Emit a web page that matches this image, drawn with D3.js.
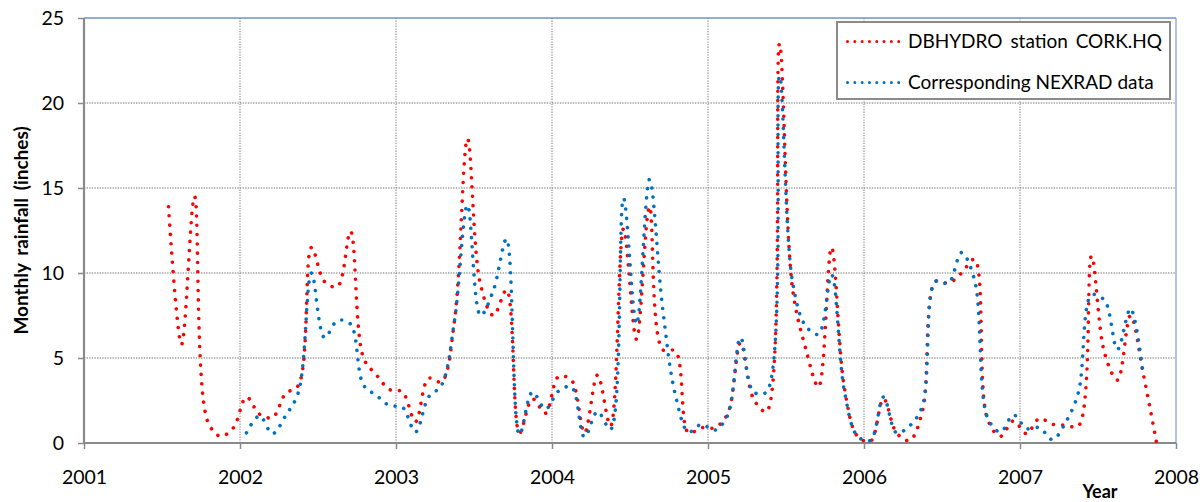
<!DOCTYPE html>
<html>
<head>
<meta charset="utf-8">
<script src="https://cdn.jsdelivr.net/npm/d3@7"></script>
<style>
  body { margin: 0; background: #fff; }
  text { font-family: Lato, "Open Sans", sans-serif; fill: #000; }
</style>
</head>
<body>
<div id="chart"></div>
<script>
// monthly rainfall, inches
var redStart = [2001, 7]   // DBHYDRO starts Jul 2001
var redValues = [
  13.9, 5.8, 14.5, 1.3, 0.4, 0.9,
  2.7, 1.7, 1.5, 2.9, 3.4, 11.5, 9.5, 9.2, 12.45, 5.0, 4.0, 3.15,
  3.0, 1.25, 3.8, 3.6, 7.2, 17.9, 9.3, 7.5, 9.0, 0.6, 2.6, 1.75,
  3.9, 3.7, 0.6, 4.0, 1.0, 12.6, 6.1, 13.9, 5.5, 5.4, 0.6, 0.9,
  0.9, 1.7, 5.9, 2.6, 1.85, 23.5, 9.1, 5.6, 3.3, 11.5, 3.2, 0.4,
  0.1, 2.6, 0.6, 0.15, 1.9, 9.5, 9.4, 10.0, 10.8, 1.4, 0.4, 1.3,
  0.55, 1.45, 1.1, 1.05, 1.0, 11.0, 5.3, 3.7, 7.5, 4.0, 0.05
]
var blueStart = [2002, 1]  // NEXRAD starts Jan 2002
var blueValues = [
  0.6, 1.6, 0.55, 1.6, 3.0, 10.0, 6.2, 7.2, 7.0, 3.4, 2.8, 2.2,
  2.1, 0.65, 2.7, 3.4, 7.2, 14.0, 7.5, 9.0, 12.0, 0.5, 3.0, 2.0,
  3.05, 3.3, 0.35, 1.85, 0.8, 14.4, 7.0, 15.5, 8.0, 2.8, 0.65, 1.1,
  0.75, 1.6, 6.2, 3.0, 3.0, 21.6, 9.5, 6.9, 6.4, 9.9, 3.0, 0.4,
  0.15, 2.7, 0.6, 1.0, 2.2, 9.5, 9.4, 11.2, 9.6, 1.5, 0.65, 1.65,
  0.85, 0.9, 0.2, 1.2, 3.0, 8.7, 8.4, 5.5, 7.9, 3.9
]
var yearTicks = [2001, 2002, 2003, 2004, 2005, 2006, 2007, 2008]
var yTicks = [0, 5, 10, 15, 20, 25]
var seriesNames = ["DBHYDRO station CORK.HQ", "Corresponding NEXRAD data"]
var seriesColors = ["#FF0000", "#0070C0"]

function toSeries(start, vals) {
  return vals.map(function (v, i) {
    var m = start[1] - 1 + i
    return [start[0] + (m + 0.5) / 12, v]
  })
}

var width = 1203, height = 502
var margin = { top: 18, right: 27, bottom: 59, left: 84 }
var w = width - margin.left - margin.right
var h = height - margin.top - margin.bottom

var x = d3.scaleLinear().domain([2001, 2008]).range([0, w])
var y = d3.scaleLinear().domain([0, 25]).range([h, 0])

var svg = d3.select("#chart").append("svg")
  .attr("width", width)
  .attr("height", height)
  .style("display", "block")

var g = svg.append("g")
  .attr("transform", "translate(" + margin.left + "," + margin.top + ")")

// grid
g.selectAll(".hgrid")
  .data(yTicks.filter(function (d) { return d > 0 && d < 25 }))
  .enter().append("line")
  .attr("x1", 0).attr("x2", w)
  .attr("y1", function (d) { return y(d) }).attr("y2", function (d) { return y(d) })
  .attr("stroke", "#9a9a9a").attr("stroke-width", 1.3).attr("stroke-dasharray", "1.3 1.3")

g.selectAll(".vgrid")
  .data(yearTicks.filter(function (d) { return d > 2001 && d < 2008 }))
  .enter().append("line")
  .attr("y1", 0).attr("y2", h)
  .attr("x1", function (d) { return x(d) }).attr("x2", function (d) { return x(d) })
  .attr("stroke", "#9a9a9a").attr("stroke-width", 1.3).attr("stroke-dasharray", "1.3 1.3")

// top / right border
g.append("line").attr("x1", 0).attr("x2", w).attr("y1", 0).attr("y2", 0)
  .attr("stroke", "#6f93c9").attr("stroke-width", 1.6)
g.append("line").attr("x1", w).attr("x2", w).attr("y1", 0).attr("y2", h)
  .attr("stroke", "#7b9dd0").attr("stroke-width", 1.2)

// axes
var yAxis = d3.axisLeft(y).tickValues(yTicks).tickSize(6).tickPadding(14)
var xAxis = d3.axisBottom(x).tickValues(yearTicks).tickSize(6).tickPadding(21).tickFormat(d3.format("d"))

var ya = g.append("g").call(yAxis)
var xa = g.append("g").attr("transform", "translate(0," + h + ")").call(xAxis)

;[ya, xa].forEach(function (a) {
  a.select(".domain").attr("stroke", "#8a8a8a").attr("stroke-width", 2.2)
  a.selectAll(".tick line").attr("stroke", "#8a8a8a").attr("stroke-width", 1.5)
  a.selectAll("text").attr("font-family", "Lato, sans-serif").attr("font-size", 19.5).attr("fill", "#000")
})
ya.select(".domain").attr("d", "M0," + h + "V0")
xa.select(".domain").attr("d", "M0,0H" + w)

// series
var line = d3.line()
  .x(function (d) { return x(d[0]) })
  .y(function (d) { return y(d[1]) })
  .curve(d3.curveCatmullRom.alpha(0.5))

var all = [toSeries(redStart, redValues), toSeries(blueStart, blueValues)]

g.selectAll(".series")
  .data(all)
  .enter().append("path")
  .attr("class", "series")
  .attr("d", line)
  .attr("fill", "none")
  .attr("stroke", function (d, i) { return seriesColors[i] })
  .attr("stroke-width", 3.6)
  .attr("stroke-linecap", "round")
  .attr("stroke-dasharray", "0.01 9.3")

// legend
var lg = svg.append("g").attr("transform", "translate(837,22)")
lg.append("rect")
  .attr("width", 333).attr("height", 77)
  .attr("fill", "#fff").attr("stroke", "#8a8a8a").attr("stroke-width", 2)

seriesNames.forEach(function (name, i) {
  var ly = 19.5 + i * 41
  lg.append("line")
    .attr("x1", 10.5).attr("x2", 65)
    .attr("y1", ly).attr("y2", ly)
    .attr("stroke", seriesColors[i]).attr("stroke-width", 3)
    .attr("stroke-linecap", "round").attr("stroke-dasharray", "0.01 7.3")
  lg.append("text")
    .attr("x", 71).attr("y", ly)
    .attr("dy", "0.35em")
    .attr("font-size", 19)
    .attr("word-spacing", i == 0 ? 3 : 0)
    .text(name)
})

// axis titles
svg.append("text")
  .attr("transform", "translate(28," + (margin.top + h / 2) + ") rotate(-90)")
  .attr("text-anchor", "middle")
  .attr("font-weight", "bold")
  .attr("font-size", 19)
  .attr("word-spacing", 3)
  .text("Monthly rainfall (inches)")

svg.append("text")
  .attr("x", 1100).attr("y", 498)
  .attr("text-anchor", "middle")
  .attr("font-weight", "bold")
  .attr("font-size", 18)
  .text("Year")
</script>
</body>
</html>
